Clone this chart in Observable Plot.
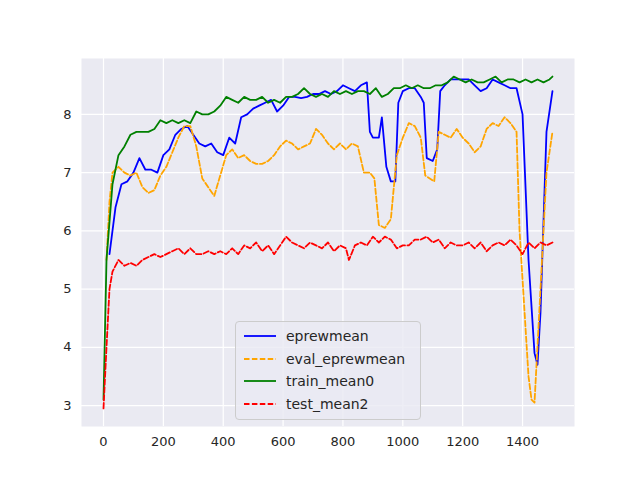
<!DOCTYPE html>
<html><head><meta charset="utf-8">
<script src="https://cdn.jsdelivr.net/npm/d3@7"></script>
<script src="https://cdn.jsdelivr.net/npm/@observablehq/plot@0.6"></script>
<style>
body{margin:0;background:#fff;font-family:"DejaVu Sans",sans-serif}
#wrap{position:relative;width:640px;height:480px}
#legend{position:absolute;left:235px;top:321px;width:186px;height:99px;background:rgba(234,234,242,0.8);border:1px solid #ccc;border-radius:4px;box-sizing:border-box;font-size:14px;color:#262626}
.it{position:absolute;left:8px;height:20px;display:flex;align-items:center}
.it svg{margin-right:10px}
</style></head><body>
<div id="wrap"><div id="legend"></div></div>
<script>
const epX=[20,40,60,80,100,120,140,160,180,200,220,240,260,280,300,320,340,360,380,400,420,440,460,480,500,520,540,560,580,600,620,640,660,680,700,720,740,760,780,800,820,840,860,880,890,900,920,930,945,960,975,985,1000,1020,1040,1060,1070,1080,1100,1115,1125,1140,1160,1180,1200,1220,1240,1260,1280,1300,1320,1340,1360,1380,1400,1420,1440,1450,1460,1480,1500];
const epY=[5.6,6.4,6.8,6.85,7.0,7.25,7.05,7.05,7.0,7.3,7.4,7.65,7.75,7.8,7.65,7.5,7.45,7.5,7.35,7.3,7.6,7.5,7.95,8.0,8.1,8.15,8.2,8.25,8.05,8.15,8.3,8.3,8.28,8.3,8.35,8.35,8.4,8.35,8.4,8.5,8.45,8.4,8.5,8.55,7.7,7.6,7.6,7.95,7.1,6.85,6.85,8.2,8.4,8.45,8.45,8.3,8.2,7.25,7.2,7.4,8.4,8.5,8.6,8.6,8.6,8.6,8.5,8.4,8.45,8.6,8.55,8.5,8.45,8.45,8.0,5.5,3.9,3.7,4.6,7.7,8.4];
const evX=[10,20,30,50,70,90,110,130,150,170,190,210,230,250,270,290,310,330,350,370,390,410,430,450,470,490,510,530,550,570,590,610,630,650,670,690,710,730,750,770,790,810,830,850,870,890,905,920,940,960,980,1000,1020,1040,1060,1075,1090,1105,1120,1140,1160,1180,1200,1220,1240,1260,1280,1300,1320,1340,1360,1380,1390,1420,1430,1440,1460,1480,1500];
const evY=[5.5,6.5,7.0,7.1,7.0,6.95,7.0,6.75,6.65,6.7,6.95,7.1,7.35,7.6,7.8,7.8,7.45,6.9,6.75,6.6,6.95,7.3,7.4,7.25,7.3,7.2,7.15,7.15,7.2,7.3,7.45,7.55,7.5,7.4,7.45,7.5,7.75,7.65,7.5,7.4,7.5,7.4,7.5,7.45,7.0,7.0,6.9,6.1,6.05,6.2,7.3,7.6,7.85,7.8,7.6,6.95,6.9,6.85,7.7,7.65,7.6,7.75,7.6,7.5,7.35,7.45,7.75,7.85,7.8,7.95,7.85,7.7,6.0,3.5,3.1,3.05,5.0,7.0,7.7];
const trX=[0,10,30,50,70,90,110,130,150,170,190,210,230,250,270,290,310,330,350,370,390,410,430,450,470,490,510,530,550,570,590,610,630,650,670,690,710,730,750,770,790,810,830,850,870,890,910,930,950,970,990,1010,1030,1050,1070,1090,1110,1130,1150,1170,1190,1210,1230,1250,1270,1290,1310,1330,1350,1370,1390,1410,1430,1450,1470,1490,1500];
const trY=[3.1,5.5,6.8,7.3,7.45,7.65,7.7,7.7,7.7,7.75,7.9,7.85,7.9,7.85,7.9,7.85,8.05,8.0,8.0,8.05,8.15,8.3,8.25,8.2,8.3,8.25,8.25,8.3,8.2,8.25,8.2,8.3,8.3,8.35,8.45,8.35,8.3,8.35,8.3,8.4,8.35,8.4,8.35,8.4,8.4,8.35,8.45,8.3,8.35,8.45,8.45,8.5,8.45,8.5,8.45,8.45,8.5,8.5,8.55,8.65,8.6,8.55,8.6,8.55,8.55,8.6,8.65,8.55,8.6,8.6,8.55,8.6,8.55,8.6,8.55,8.6,8.65];
const teX=[0,10,20,30,50,70,90,110,130,150,170,190,210,230,250,270,290,310,330,350,370,390,410,430,450,470,490,510,530,550,570,590,610,630,650,670,690,710,730,750,770,790,810,820,840,860,880,900,920,940,960,980,1000,1020,1040,1060,1080,1100,1120,1140,1160,1180,1200,1220,1240,1260,1280,1300,1320,1340,1360,1380,1400,1420,1440,1460,1480,1500];
const teY=[2.95,4.0,5.0,5.3,5.5,5.4,5.45,5.4,5.5,5.55,5.6,5.55,5.6,5.65,5.7,5.6,5.7,5.6,5.6,5.65,5.6,5.65,5.6,5.7,5.6,5.75,5.7,5.8,5.65,5.75,5.6,5.75,5.9,5.8,5.75,5.7,5.8,5.75,5.7,5.8,5.65,5.75,5.7,5.5,5.75,5.8,5.75,5.9,5.8,5.9,5.85,5.7,5.75,5.75,5.85,5.85,5.9,5.8,5.85,5.7,5.8,5.75,5.75,5.8,5.7,5.8,5.65,5.75,5.8,5.75,5.85,5.75,5.6,5.8,5.7,5.8,5.75,5.8];
const xTicks=[0,200,400,600,800,1000,1200,1400];
const yTicks=[3,4,5,6,7,8];
const series=[
 {name:"eprewmean",x:epX,y:epY,color:"blue",dash:null},
 {name:"eval_eprewmean",x:evX,y:evY,color:"orange",dash:"5.5,2.4"},
 {name:"train_mean0",x:trX,y:trY,color:"green",dash:null},
 {name:"test_mean2",x:teX,y:teY,color:"red",dash:"5.5,2.4"}
];
const marks=[Plot.frame({fill:"#eaeaf2",stroke:null}),
 Plot.gridX(xTicks,{stroke:"white",strokeOpacity:1,strokeWidth:1.2}),
 Plot.gridY(yTicks,{stroke:"white",strokeOpacity:1,strokeWidth:1.2})];
for(const s of series){
 const d=s.x.map((x,i)=>({x,y:s.y[i]}));
 marks.push(Plot.line(d,{x:"x",y:"y",stroke:s.color,strokeWidth:1.8,strokeDasharray:s.dash}));
}
marks.push(Plot.axisX({ticks:xTicks,tickSize:0,tickPadding:10,fontSize:13,label:null,color:"#262626",tickFormat:d3.format("d")}));
marks.push(Plot.axisY({ticks:yTicks,tickSize:0,tickPadding:10,fontSize:13,label:null,color:"#262626",tickFormat:d3.format("d")}));
const chart=Plot.plot({width:640,height:480,marginLeft:81,marginRight:66,marginTop:58,marginBottom:54,
 x:{domain:[-73.5,1573.6]},y:{domain:[2.64,8.96]},style:{fontFamily:"DejaVu Sans",fontSize:"13px",color:"#262626",background:"white"},marks});
const wrap=document.getElementById("wrap");
wrap.insertBefore(chart,wrap.firstChild);
const lg=document.getElementById("legend");
series.forEach((s,i)=>{
 const it=document.createElement("div");it.className="it";it.style.top=(4+i*22.5)+"px";
 it.innerHTML=`<svg width="32" height="10"><line x1="0" x2="32" y1="5" y2="5" stroke="${s.color}" stroke-width="1.8" ${s.dash?`stroke-dasharray="${s.dash}"`:""}/></svg><span>${s.name}</span>`;
 lg.appendChild(it);
});
</script></body></html>
